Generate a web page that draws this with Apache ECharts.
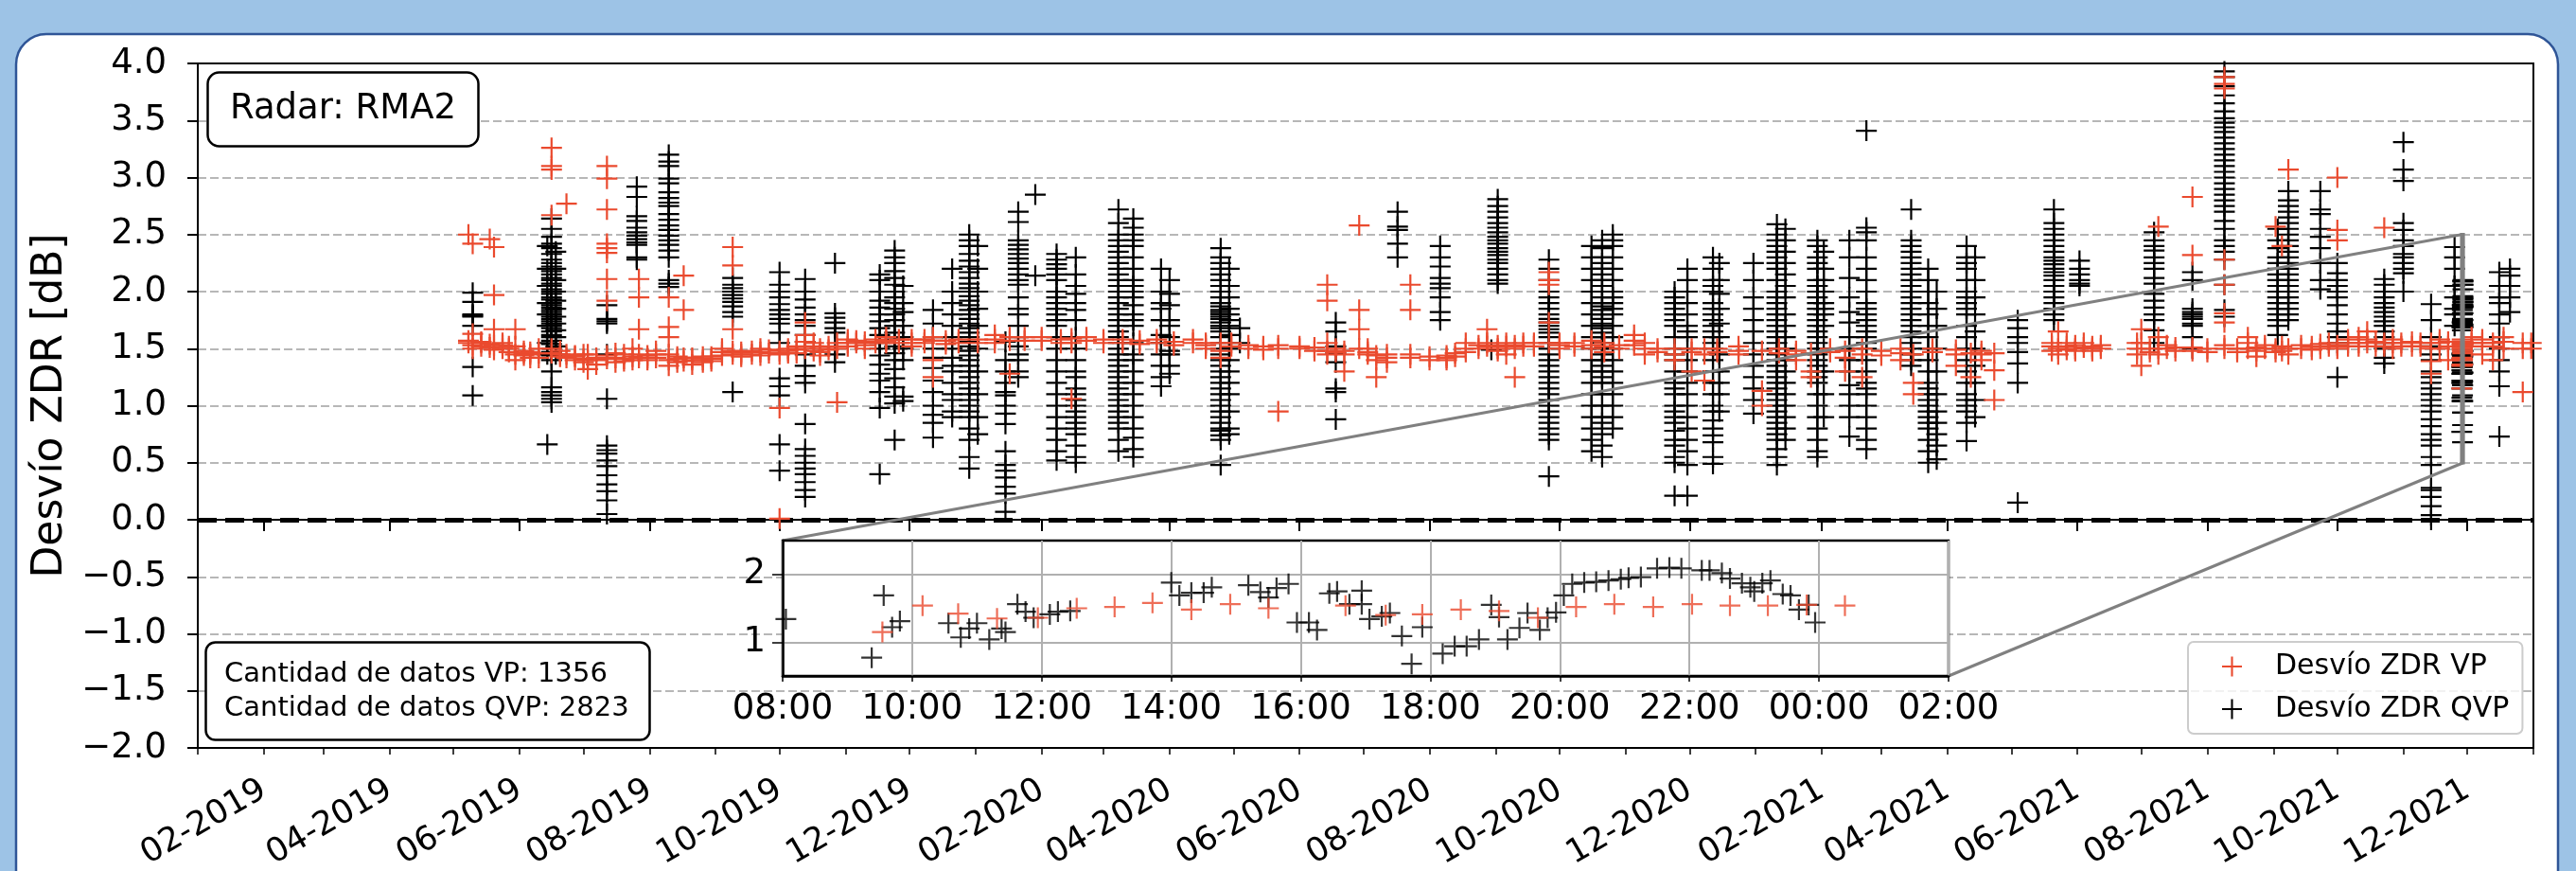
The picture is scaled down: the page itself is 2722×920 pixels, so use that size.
<!DOCTYPE html>
<html><head><meta charset="utf-8">
<script src="https://cdn.jsdelivr.net/npm/echarts@6/dist/echarts.min.js"></script>
<style>html,body{margin:0;padding:0;background:#9DC3E6;}#c{width:2722px;height:920px;}</style>
</head><body><div id="c"></div>
<script>
// ---------------- DATA ----------------
const xTickLabels = ['02-2019','04-2019','06-2019','08-2019','10-2019','12-2019','02-2020','04-2020','06-2020','08-2020','10-2020','12-2020','02-2021','04-2021','06-2021','08-2021','10-2021','12-2021'];
const xStart = '2019-01-01';
const xEnd = '2022-01-01';
const insetTickLabels = ['08:00','10:00','12:00','14:00','16:00','18:00','20:00','22:00','00:00','02:00'];
const insetDate = '2021-11-28';

const qvpDates = ['2019-05-10','2019-06-14','2019-06-16','2019-06-18','2019-07-12','2019-07-26','2019-08-10','2019-09-09','2019-10-01','2019-10-13','2019-10-27','2019-11-17','2019-11-24','2019-11-28','2019-12-12','2019-12-21','2019-12-29','2020-01-02','2020-01-15','2020-01-21','2020-01-29','2020-02-08','2020-02-17','2020-03-08','2020-03-15','2020-03-28','2020-04-01','2020-04-25','2020-04-29','2020-05-04','2020-06-18','2020-07-17','2020-08-06','2020-08-30','2020-09-02','2020-09-26','2020-10-16','2020-10-21','2020-10-26','2020-11-24','2020-11-30','2020-12-12','2020-12-15','2020-12-31','2021-01-11','2021-01-15','2021-01-30','2021-02-02','2021-02-14','2021-02-22','2021-03-15','2021-03-23','2021-03-27','2021-04-10','2021-04-14','2021-05-04','2021-05-21','2021-06-02','2021-07-07','2021-07-25','2021-08-09','2021-09-03','2021-09-08','2021-09-23','2021-10-01','2021-10-23','2021-11-01','2021-11-14','2021-11-25','2021-12-16','2021-12-21'];
const qvpValues = [
 [1.99,1.91,1.80,1.79,1.78,1.70,1.34,1.09],
 [0.66,2.40,2.20,2.05,1.90,1.80,1.70,1.55,1.45],
 [2.64,2.55,2.48,2.42,2.38,2.33,2.28,2.25,2.22,2.18,2.15,2.12,2.10,2.07,2.05,2.02,2.00,1.98,1.95,1.93,1.90,1.88,1.86,1.84,1.82,1.80,1.78,1.76,1.74,1.72,1.70,1.68,1.65,1.62,1.60,1.57,1.54,1.50,1.47,1.44,1.40,1.30,1.16,1.12,1.09,1.06,1.03],
 [2.35,2.20,2.10,2.00,1.92,1.85,1.78,1.72,1.66,1.60,1.52,1.45],
 [1.88,1.76,1.74,1.72,1.45,1.06,0.65,0.61,0.58,0.52,0.47,0.39,0.31,0.25,0.17,0.05],
 [2.92,2.83,2.66,2.62,2.56,2.52,2.49,2.46,2.43,2.41,2.30,2.28],
 [3.20,3.14,3.10,2.99,2.95,2.87,2.82,2.78,2.75,2.68,2.63,2.58,2.54,2.49,2.45,2.41,2.36,2.30,2.10,2.07,2.04],
 [2.12,2.06,2.03,2.00,1.97,1.94,1.91,1.87,1.82,1.78,1.12],
 [2.17,2.06,2.00,1.95,1.89,1.84,1.80,1.76,1.72,1.64,1.55,1.24,1.17,1.09,0.66,0.43],
 [2.11,2.00,1.93,1.86,1.80,1.75,1.70,1.62,1.56,1.45,1.35,1.26,1.20,0.84,0.62,0.56,0.50,0.45,0.40,0.33,0.26,0.20],
 [2.25,1.81,1.77,1.73,1.68,1.64,1.45,1.38],
 [2.15,2.10,2.00,1.92,1.86,1.80,1.74,1.68,1.62,1.55,1.50,1.44,1.36,1.28,1.22,1.12,0.98,0.40],
 [2.36,2.30,2.25,2.18,2.12,2.06,2.00,1.95,1.90,1.85,1.80,1.75,1.70,1.64,1.58,1.52,1.46,1.40,1.32,1.24,1.16,1.08,1.02,0.70],
 [2.05,1.90,1.82,1.70,1.60,1.50,1.40,1.08,1.04],
 [1.84,1.72,1.60,1.50,1.42,1.33,1.22,1.12,1.00,0.92,0.85,0.72],
 [2.20,2.00,1.90,1.80,1.70,1.60,1.50,1.42,1.35,1.30,1.20,1.10,1.05,0.95,0.90],
 [2.50,2.45,2.40,2.33,2.27,2.22,2.17,2.12,2.07,2.03,2.00,1.96,1.92,1.88,1.84,1.80,1.76,1.72,1.68,1.64,1.60,1.56,1.52,1.48,1.44,1.40,1.35,1.30,1.25,1.20,1.15,1.10,1.05,1.00,0.95,0.90,0.80,0.70,0.55,0.45],
 [2.40,2.20,2.00,1.85,1.70,1.50,1.30,1.10,0.90,0.75],
 [1.56,1.40,1.30,1.20,1.12,1.09,1.00,0.93,0.84,0.60,0.48,0.43,0.37,0.29,0.23,0.07],
 [2.70,2.61,2.45,2.41,2.37,2.33,2.29,2.25,2.20,2.15,2.10,2.06,1.95,1.85,1.80,1.70,1.60,1.52,1.45,1.40,1.30,1.25],
 [2.85,2.14],
 [2.33,2.28,2.24,2.20,2.15,2.10,2.00,1.95,1.90,1.85,1.80,1.75,1.70,1.60,1.50,1.40,1.30,1.20,1.10,1.00,0.90,0.80,0.70,0.60,0.52],
 [2.30,2.15,2.05,1.98,1.90,1.84,1.75,1.60,1.50,1.40,1.30,1.25,1.15,1.10,1.05,1.00,0.95,0.90,0.85,0.80,0.75,0.65,0.55,0.50],
 [2.72,2.60,2.50,2.45,2.40,2.35,2.30,2.25,2.20,2.15,2.10,2.05,2.00,1.95,1.90,1.85,1.80,1.75,1.70,1.65,1.60,1.55,1.50,1.45,1.40,1.35,1.30,1.25,1.20,1.15,1.10,1.05,1.00,0.95,0.90,0.85,0.80,0.70,0.60],
 [2.64,2.56,2.50,2.45,2.40,2.30,2.20,2.10,2.05,2.00,1.95,1.88,1.80,1.75,1.70,1.55,1.45,1.40,1.30,1.20,1.10,1.00,0.90,0.80,0.72,0.62,0.55],
 [2.20,2.00,1.90,1.85,1.75,1.62,1.55,1.45,1.35,1.25,1.17],
 [2.10,1.98,1.88,1.75,1.70,1.60,1.48,1.45,1.35,1.28],
 [2.38,2.30,2.25,2.20,2.15,2.10,2.05,2.00,1.95,1.90,1.87,1.84,1.82,1.80,1.78,1.76,1.73,1.70,1.68,1.65,1.60,1.55,1.50,1.45,1.40,1.35,1.30,1.25,1.20,1.15,1.10,1.05,1.00,0.95,0.90,0.85,0.80,0.78,0.74,0.70,0.48],
 [2.20,2.05,1.95,1.85,1.80,1.75,1.70,1.62,1.50,1.40,1.30,1.20,1.10,0.95,0.80,0.75],
 [1.68,1.55],
 [1.73,1.65,1.52,1.46,1.38,1.15,1.12,0.88],
 [2.70,2.57,2.54,2.42,2.30],
 [2.40,2.30,2.22,2.12,2.07,2.03,1.95,1.82,1.75],
 [1.49],
 [2.81,2.75,2.70,2.65,2.60,2.56,2.52,2.48,2.45,2.42,2.38,2.35,2.32,2.28,2.25,2.20,2.15,2.10,2.07],
 [2.28,2.20,2.10,2.00,1.95,1.90,1.85,1.80,1.76,1.73,1.70,1.67,1.64,1.60,1.55,1.50,1.45,1.40,1.35,1.30,1.25,1.20,1.15,1.10,1.05,1.00,0.95,0.90,0.85,0.80,0.75,0.70,0.38],
 [2.40,2.30,2.20,2.10,2.00,1.90,1.80,1.70,1.60,1.50,1.40,1.30,1.20,1.10,1.00,0.90,0.80,0.70,0.60],
 [2.45,2.38,2.30,2.25,2.20,2.15,2.10,2.05,2.00,1.95,1.90,1.87,1.84,1.80,1.76,1.72,1.68,1.64,1.60,1.55,1.50,1.45,1.40,1.35,1.30,1.25,1.20,1.10,1.00,0.90,0.85,0.75,0.65,0.55],
 [2.50,2.45,2.40,2.30,2.20,2.10,2.00,1.95,1.90,1.85,1.80,1.70,1.60,1.50,1.40,1.30,1.20,1.10,1.00,0.90,0.80],
 [2.00,1.95,1.90,1.85,1.80,1.75,1.70,1.60,1.50,1.45,1.40,1.30,1.20,1.15,1.10,1.00,0.95,0.90,0.85,0.78,0.70,0.65,0.55,0.50,0.21],
 [2.20,2.10,2.00,1.90,1.80,1.70,1.65,1.60,1.50,1.40,1.30,1.20,1.10,1.00,0.90,0.80,0.70,0.60,0.48,0.21],
 [2.30,2.20,2.10,2.05,2.00,1.90,1.85,1.80,1.75,1.70,1.65,1.60,1.55,1.50,1.40,1.30,1.20,1.10,1.00,0.95,0.87,0.80,0.74,0.68,0.55,0.49],
 [2.25,2.10,1.98,1.85,1.72,1.60,1.45,1.30,1.20,1.10,0.95],
 [2.25,2.10,1.95,1.85,1.75,1.65,1.55,1.45,1.35,1.25,1.15,1.05,0.93],
 [2.59,2.50,2.45,2.40,2.35,2.30,2.25,2.20,2.10,2.00,1.95,1.90,1.85,1.80,1.75,1.70,1.65,1.60,1.55,1.50,1.45,1.40,1.35,1.30,1.25,1.20,1.15,1.10,1.05,1.00,0.95,0.90,0.85,0.80,0.75,0.70,0.62,0.55,0.48],
 [2.55,2.45,2.35,2.25,2.15,2.05,1.95,1.80,1.70,1.60,1.50,1.40,1.30,1.20,1.10,1.00,0.90,0.80,0.70],
 [2.45,2.40,2.30,2.25,2.20,2.10,2.05,2.00,1.95,1.90,1.85,1.80,1.75,1.70,1.65,1.60,1.55,1.50,1.45,1.40,1.35,1.30,1.25,1.20,1.10,1.00,0.90,0.80,0.70,0.60,0.55],
 [2.35,2.20,2.10,2.00,1.90,1.85,1.80,1.70,1.50,1.30,1.10,0.90],
 [2.45,2.30,2.12,1.95,1.82,1.73,1.60,1.50,1.40,1.30,1.18,1.10,1.00,0.90,0.73],
 [3.41,2.56,2.52,2.45,2.30,2.20,2.10,2.00,1.90,1.85,1.80,1.75,1.70,1.65,1.60,1.55,1.50,1.40,1.30,1.20,1.15,1.10,1.00,0.90,0.80,0.70,0.62],
 [2.72,2.45,2.40,2.35,2.30,2.25,2.20,2.15,2.10,2.05,2.00,1.95,1.90,1.85,1.80,1.75,1.70,1.65,1.60,1.55,1.50,1.45,1.40,1.35],
 [2.20,2.10,2.00,1.90,1.80,1.70,1.60,1.50,1.40,1.30,1.20,1.15,1.10,1.05,1.00,0.95,0.90,0.85,0.80,0.70,0.60,0.50],
 [2.00,1.85,1.70,1.50,1.30,1.10,0.95,0.85,0.75,0.65,0.53],
 [2.40,2.30,2.25,2.20,2.10,2.00,1.95,1.90,1.85,1.80,1.70,1.60,1.50,1.40,1.30,1.20,1.10,1.05,1.00,0.95,0.85,0.69],
 [2.30,2.10,1.95,1.80,1.65,1.50,1.35,1.20,1.05,0.90],
 [1.75,1.68,1.60,1.55,1.47,1.37,1.20,0.15],
 [2.72,2.60,2.55,2.50,2.45,2.40,2.35,2.30,2.27,2.24,2.20,2.17,2.14,2.10,2.05,2.00,1.95,1.90,1.85,1.80,1.75],
 [2.27,2.20,2.15,2.10,2.07,2.05],
 [2.52,2.45,2.40,2.36,2.30,2.25,2.20,2.12,2.07,1.98,1.92,1.86,1.80,1.75,1.66,1.55],
 [2.17,2.10,1.85,1.82,1.80,1.78,1.76,1.72,1.70,1.60,1.50],
 [3.93,3.88,3.80,3.72,3.65,3.58,3.52,3.48,3.44,3.40,3.35,3.30,3.25,3.20,3.15,3.10,3.05,3.00,2.95,2.90,2.85,2.80,2.75,2.70,2.62,2.55,2.45,2.40,2.35,2.28,2.06,1.84,1.78],
 [2.55,2.45,2.38,2.30,2.25,2.20,2.15,2.10,2.05,2.00,1.95,1.90,1.85,1.80,1.75,1.70,1.62],
 [2.88,2.80,2.75,2.70,2.65,2.60,2.55,2.50,2.45,2.40,2.35,2.30,2.25,2.20,2.15,2.10,2.05,2.00,1.95,1.90,1.85,1.80,1.75],
 [2.88,2.72,2.68,2.55,2.48,2.38,2.25,2.10,2.02],
 [2.25,2.16,2.10,2.05,2.00,1.95,1.88,1.80,1.72,1.65,1.60,1.55,1.25],
 [2.11,2.06,2.00,1.95,1.90,1.86,1.82,1.78,1.74,1.70,1.65,1.60,1.55,1.50,1.42,1.37],
 [3.31,3.07,2.97,2.60,2.54,2.45,2.40,2.33,2.30,2.25,2.20,2.16,2.00],
 [1.89,1.75,1.60,1.52,1.45,1.40,1.30,1.25,1.20,1.15,1.10,1.05,1.00,0.95,0.88,0.82,0.75,0.70,0.65,0.55,0.48,0.28,0.26,0.20,0.12,0.04,0.00],
 [2.39,2.30,2.20,2.05,1.95,1.85,1.80,1.70],
 [2.17,2.05,1.95,1.90,1.80,1.72,1.60,1.50,1.40,1.30,1.17,0.73],
 [2.20,2.14,2.05,1.95,1.82]
];

const vpDates = ['2019-05-08','2019-05-10','2019-05-14','2019-05-18','2019-05-20','2019-05-24','2019-05-27','2019-05-30','2019-06-03','2019-06-06','2019-06-10','2019-06-16','2019-06-20','2019-06-23','2019-06-27','2019-07-01','2019-07-03','2019-07-07','2019-07-12','2019-07-16','2019-07-20','2019-07-24','2019-07-27','2019-07-31','2019-08-04','2019-08-10','2019-08-14','2019-08-17','2019-08-21','2019-08-26','2019-08-30','2019-09-04','2019-09-09','2019-09-13','2019-09-18','2019-09-22','2019-09-26','2019-10-01','2019-10-05','2019-10-09','2019-10-13','2019-10-17','2019-10-20','2019-10-24','2019-10-28','2019-11-02','2019-11-06','2019-11-10','2019-11-15','2019-11-20','2019-11-26','2019-12-02','2019-12-08','2019-12-12','2019-12-18','2019-12-24','2020-01-02','2020-01-10','2020-01-17','2020-01-24','2020-02-01','2020-02-10','2020-02-15','2020-02-22','2020-03-01','2020-03-10','2020-03-18','2020-03-26','2020-04-03','2020-04-12','2020-04-18','2020-04-25','2020-04-30','2020-05-08','2020-05-15','2020-05-22','2020-06-01','2020-06-08','2020-06-14','2020-06-18','2020-06-22','2020-06-29','2020-07-03','2020-07-07','2020-07-12','2020-07-23','2020-08-01','2020-08-09','2020-08-13','2020-08-18','2020-08-24','2020-08-28','2020-09-02','2020-09-06','2020-09-10','2020-09-14','2020-09-19','2020-09-26','2020-10-01','2020-10-08','2020-10-16','2020-10-22','2020-10-29','2020-11-05','2020-11-10','2020-11-16','2020-11-24','2020-12-02','2020-12-08','2020-12-14','2020-12-24','2021-01-04','2021-01-12','2021-01-20','2021-01-27','2021-02-05','2021-02-12','2021-02-20','2021-03-01','2021-03-10','2021-03-16','2021-03-25','2021-04-05','2021-04-12','2021-04-17','2021-04-23','2021-05-20','2021-05-23','2021-05-27','2021-05-31','2021-06-04','2021-06-08','2021-06-12','2021-06-29','2021-07-01','2021-07-05','2021-07-09','2021-07-13','2021-07-17','2021-07-25','2021-08-01','2021-08-09','2021-08-15','2021-08-20','2021-08-24','2021-08-28','2021-09-02','2021-09-05','2021-09-08','2021-09-14','2021-09-19','2021-09-23','2021-09-27','2021-10-01','2021-10-06','2021-10-11','2021-10-15','2021-10-19','2021-10-23','2021-10-27','2021-10-31','2021-11-05','2021-11-09','2021-11-14','2021-11-18','2021-11-22','2021-12-03','2021-12-08','2021-12-13','2021-12-18','2021-12-27','2021-12-31'];
const vpValues = [
 [2.50,1.55,1.57],[2.42,1.63,1.53,1.50],[1.55,1.52,1.56],[2.46,1.54,1.51],[2.39,1.97,1.67,1.53,1.49],[1.55,1.50,1.53],[1.52,1.47,1.50],[1.67,1.52,1.45,1.40],[1.48,1.44,1.46],[1.45,1.42,1.47],[1.46,1.42,1.50],
 [3.26,3.10,3.07,2.67,1.50,1.46],[1.48,1.43,1.45],[2.77,1.45,1.42],[1.44,1.40,1.43],[1.45,1.38,1.41],[1.45,1.40,1.32],[1.42,1.36,1.40],[3.10,2.99,2.72,2.42,2.38,2.34,2.11,1.92,1.44,1.41],[1.46,1.42,1.38],[1.45,1.41,1.39],[1.50,1.43,1.40],
 [2.11,1.95,1.67,1.45,1.42],[1.44,1.40,1.42],[1.48,1.42,1.45],[1.95,1.69,1.60,1.45,1.40,1.35],[1.43,1.38,1.41],[2.14,1.84,1.42,1.39],[1.42,1.36,1.40],[1.40,1.38,1.43],[1.43,1.39,1.41],[1.50,1.44,1.47],[2.39,2.23,1.67,1.48,1.45],[1.47,1.43,1.45],[1.48,1.45],[1.50,1.44,1.47],[1.46,1.49],
 [0.98,0.01,1.45,1.48],[1.48,1.50,1.46],[1.52,1.46,1.49],[1.73,1.62,1.56,1.50],[1.55,1.48,1.52],[1.50,1.44,1.47],[1.52,1.49],[1.03,1.55,1.50],[1.58,1.52,1.55],[1.55,1.57],[1.56,1.50,1.53],[1.58,1.55],[1.55,1.60,1.57],[1.58,1.55],[1.55,1.52,1.58],[1.58,1.55],[1.25,1.40,1.60,1.57],[1.57,1.54],[1.55,1.58],
 [1.58,1.55],[1.62,1.55,1.58],[1.28,1.60,1.57],[1.57,1.60],[1.60,1.57],[1.58,1.55],[1.06,1.55,1.59],[1.60,1.57],[1.58,1.55],[1.55,1.58],[1.57,1.54],[1.55,1.58],[1.56,1.53],[1.58,1.55],[1.55,1.50,1.53],[1.55,1.48,1.42],[1.52,1.55],[1.50,1.53],[1.52,1.49],[1.53,0.95,1.50],[1.50,1.52],[1.48,1.51],
 [2.06,1.92,1.55,1.48,1.45],[1.50,1.47],[1.30,1.45,1.48],[2.58,1.84,1.67,1.50],[1.50,1.45,1.47],[1.40,1.25,1.44],[1.38,1.45,1.42],[2.06,1.84,1.45,1.42],[1.43,1.40],[1.42,1.40,1.44],[1.43,1.46],[1.55,1.50,1.47],[1.50,1.53],[1.67,1.55,1.52],[1.50,1.48,1.53],[1.45,1.55,1.52],[1.25,1.50,1.53],[1.52,1.55],[1.55,1.52],
 [2.17,2.10,2.06,1.73,1.55],[1.55,1.53,1.50],[1.52,1.55],[1.57,1.50,1.53],[1.47,1.52,1.55],[1.50,1.53],[1.62,1.57,1.53],[1.45,1.55,1.50],[1.50,1.47],[1.45,1.40,1.50],[1.30,1.50,1.47],[1.22,1.45,1.50],[1.50,1.47],[1.52,1.48,1.45],
 [1.13,1.00,1.48],[1.50,1.46],[1.48,1.40,1.45],[1.30,1.25,1.46],[1.50,1.47],[1.42,1.30,1.48],[1.25,1.50,1.45],[1.48,1.44],[1.50,1.40,1.46],[1.20,1.10,1.45],[1.50,1.47],[1.45,1.35,1.49],[1.25,1.46],[1.45,1.40,1.48],[1.31,1.05,1.46],
 [1.55,1.48,1.52],[1.65,1.50,1.45],[1.55,1.52,1.49],[1.50,1.48,1.53],[1.55,1.51],[1.52,1.50,1.48],[1.50,1.53],[1.55,1.45,1.50],[1.67,1.55,1.35],[1.50,1.47],[2.57,1.60,1.45,1.50],[1.50,1.53],[1.48,1.51],[2.83,2.32,1.48,1.51],[1.50,1.47],
 [3.88,3.82,3.78,2.28,2.06,1.81,1.73,1.53,1.50],[1.50,1.47],[1.60,1.55,1.50],[1.48,1.43,1.51],[1.50,1.53],[2.57,1.50,1.47],[2.40,1.48,1.52],[3.07,1.45,1.50],[1.50,1.53],[1.52,1.49],[1.50,1.54],[1.52,1.55],[3.00,2.54,2.45,1.50,1.53],[1.55,1.58,1.52],[1.60,1.55,1.52],[1.65,1.55,1.58],[1.52,1.56],[2.56,1.52,1.55],[1.50,1.55,1.58],[1.55,1.52],[1.52,1.56],[1.55,1.52],[1.39,1.28,1.50,1.55],[1.55,1.50,1.58],[1.40,1.52,1.56],[1.60,1.55,1.52],[1.55,1.45,1.58],[1.40,1.55,1.52],[1.50,1.60,1.56],[1.12,1.50,1.55],[1.50,1.55]
];

// inset (one day, hours after 00:00 of insetDate)
const insetQvpHours = [8.05,9.375,9.56,9.69,9.81,10.56,10.75,10.88,11.0,11.19,11.38,11.44,11.625,11.75,11.875,12.125,12.25,12.44,14.0,14.125,14.31,14.5,14.625,15.19,15.375,15.5,15.625,15.81,15.94,16.125,16.25,16.44,16.56,16.75,16.94,16.94,17.06,17.25,17.375,17.56,17.71,17.875,18.19,18.375,18.56,18.75,18.94,19.06,19.19,19.375,19.5,19.69,19.81,19.94,20.06,20.19,20.375,20.56,20.75,20.94,21.06,21.25,21.5,21.69,21.875,22.19,22.31,22.5,22.625,22.81,22.94,23.0,23.125,23.25,23.44,23.56,23.69,23.84,23.94];
const insetQvpValues = [1.34,0.77,1.69,1.22,1.31,1.28,1.07,1.20,1.28,1.04,1.20,1.15,1.56,1.45,1.36,1.41,1.45,1.46,1.88,1.69,1.73,1.73,1.81,1.84,1.74,1.66,1.80,1.86,1.29,1.29,1.18,1.72,1.75,1.56,1.56,1.76,1.34,1.38,1.43,1.09,0.68,1.22,0.83,0.94,0.94,1.04,1.55,1.37,1.04,1.21,1.43,1.18,1.36,1.44,1.69,1.86,1.88,1.89,1.91,1.93,1.95,1.96,2.09,2.10,2.09,2.06,2.06,2.02,1.94,1.87,1.81,1.75,1.87,1.91,1.71,1.69,1.48,1.55,1.29];
const insetVpHours = [9.54,10.16,10.71,11.31,11.94,12.54,13.125,13.71,14.31,14.91,15.5,16.69,17.31,17.875,18.47,19.06,19.66,20.25,20.84,21.44,22.04,22.625,23.21,23.81,24.4];
const insetVpValues = [1.15,1.54,1.42,1.35,1.36,1.50,1.52,1.58,1.48,1.56,1.50,1.54,1.40,1.41,1.48,1.46,1.36,1.52,1.56,1.52,1.56,1.54,1.54,1.55,1.54];

// ---------------- BUILD ----------------
const FONT = 'DejaVu Sans';
const RED = '#ea4a2e';
const PLUS = 'path://M-10,-1L10,-1L10,1L-10,1Z M-1,-10L1,-10L1,10L-1,10Z';
function ts(s){const p=s.split('-').map(Number);return new Date(p[0],p[1]-1,p[2]).getTime();}
function tickTs(lbl){const m=+lbl.slice(0,2),y=+lbl.slice(3);return new Date(y,m-1,1).getTime();}
const xMin = ts(xStart), xMax = ts(xEnd);
const majorTicks = xTickLabels.map(tickTs);
const labelMap = {}; xTickLabels.forEach((l,i)=>labelMap[majorTicks[i]]=l);
const minorTicks = [];
for(let d=new Date(xMin); d.getTime()<=xMax; d=new Date(d.getFullYear(), d.getMonth()+1, 1)) minorTicks.push(d.getTime());

const insetBase = ts(insetDate);
const qvpData = [];
qvpDates.forEach((d,i)=>qvpValues[i].forEach(v=>qvpData.push([ts(d),v])));
insetQvpHours.forEach((h,i)=>qvpData.push([insetBase+h*3600e3, insetQvpValues[i]]));
const vpData = [];
vpDates.forEach((d,i)=>vpValues[i].forEach(v=>vpData.push([ts(d),v])));
insetVpHours.forEach((h,i)=>vpData.push([insetBase+h*3600e3, insetVpValues[i]]));
const insetQvp = insetQvpHours.map((h,i)=>[h, insetQvpValues[i]]);
const insetVp = insetVpHours.map((h,i)=>[h, insetVpValues[i]]);

const chart = echarts.init(document.getElementById('c'), null, {renderer:'canvas'});
const txt = {fontFamily: FONT, color:'#000'};
const option = {
  animation:false,
  backgroundColor:'#9DC3E6',
  graphic:{elements:[{id:'panel',type:'rect',z:-10,shape:{x:17,y:36,width:2686,height:1000,r:32},style:{fill:'#fff',stroke:'#2F5597',lineWidth:2.5}}]},
  title:[
    {text:'Radar: RMA2', left:219, top:76, padding:[21,24], borderWidth:2.5, borderColor:'#000', borderRadius:12, backgroundColor:'#fff',
     textStyle:Object.assign({fontSize:37,fontWeight:'normal'},txt), z:20},
    {text:'Cantidad de datos VP: 1356\nCantidad de datos QVP: 2823', left:217, top:678, padding:[16,22,16,20], borderWidth:2.5, borderColor:'#000', borderRadius:10, backgroundColor:'#fff',
     textStyle:Object.assign({fontSize:29,fontWeight:'normal',lineHeight:36},txt), z:20}
  ],
  legend:{
    orient:'vertical', left:2312, top:678, padding:[11,14,11,36], itemWidth:21, itemHeight:21, itemGap:15,
    backgroundColor:'rgba(255,255,255,0.8)', borderColor:'#cccccc', borderWidth:2, borderRadius:6, z:20,
    formatter:'{g|}{t|{name}}',
    textStyle:{fontSize:30, fontFamily:FONT, color:'#000', rich:{g:{width:30}, t:{fontSize:30,fontFamily:FONT,color:'#000'}}},
    data:['Desvío ZDR VP','Desvío ZDR QVP']
  },
  grid:[
    {left:209, top:67, width:2468, height:723, show:true, borderColor:'#000', borderWidth:2, backgroundColor:'transparent', outerBoundsMode:'none', z:1},
    {left:827, top:571, width:1232, height:143, show:true, borderColor:'#000', borderWidth:2.5, backgroundColor:'#fff', outerBoundsMode:'none', z:10}
  ],
  xAxis:[
    {type:'value', gridIndex:0, min:xMin, max:xMax,
     axisLine:{show:true, lineStyle:{color:'#000', width:2}},
     axisTick:{show:true, length:12, lineStyle:{color:'#000', width:2}, customValues:majorTicks},
     axisLabel:{show:true, rotate:30, margin:42, fontSize:35, fontFamily:FONT, color:'#000', customValues:majorTicks, formatter:v=>labelMap[v]||''},
     splitLine:{show:false}, minorTick:{show:false}},
    {type:'value', gridIndex:0, min:xMin, max:xMax, position:'bottom',
     axisLine:{show:false}, axisTick:{show:true, length:7, lineStyle:{color:'#000', width:1.5}, customValues:minorTicks},
     axisLabel:{show:false}, splitLine:{show:false}},
    {type:'value', gridIndex:1, min:8, max:26, interval:2, z:11,
     axisLine:{show:true, lineStyle:{color:'#000', width:2.5}},
     axisTick:{show:true, length:6, lineStyle:{color:'#000', width:1.5}},
     axisLabel:{show:true, margin:17, fontSize:37, fontFamily:FONT, color:'#000', formatter:v=>insetTickLabels[Math.round((v-8)/2)]},
     splitLine:{show:true, lineStyle:{color:'#b0b0b0', width:2, type:'solid'}}}
  ],
  yAxis:[
    {type:'value', gridIndex:0, min:-2, max:4, interval:0.5,
     name:'Desvío ZDR [dB]', nameLocation:'middle', nameGap:127, nameRotate:90,
     nameTextStyle:{fontSize:44, fontFamily:FONT, color:'#000'},
     axisLine:{show:true, lineStyle:{color:'#000', width:2}},
     axisTick:{show:true, length:11, lineStyle:{color:'#000', width:2}},
     axisLabel:{show:true, margin:33, fontSize:37, fontFamily:FONT, color:'#000', formatter:v=>(v<0?'\u2212':'')+Math.abs(v).toFixed(1)},
     splitLine:{show:true, lineStyle:{color:'#a0a0a0', width:1.5, type:[9,4]}}},
    {type:'value', gridIndex:1, min:0.5, max:2.5, z:11,
     axisLine:{show:true, lineStyle:{color:'#000', width:2.5}},
     axisTick:{show:true, length:11, lineStyle:{color:'#000', width:1.5}, customValues:[1,2]},
     axisLabel:{show:true, margin:18, fontSize:37, fontFamily:FONT, color:'#000', customValues:[1,2], formatter:v=>String(Math.round(v))},
     splitLine:{show:true, lineStyle:{color:'#b0b0b0', width:2, type:'solid'}}}
  ],
  series:[
    {name:'Desvío ZDR QVP', type:'scatter', xAxisIndex:0, yAxisIndex:0, symbol:PLUS, symbolSize:22, itemStyle:{color:'#000', opacity:1}, z:3, data:qvpData,
     markLine:{silent:true, symbol:'none', label:{show:false}, lineStyle:{color:'#000', width:5, type:[20,9]}, data:[{yAxis:0}], z:3}},
    {name:'Desvío ZDR VP', type:'scatter', xAxisIndex:0, yAxisIndex:0, symbol:PLUS, symbolSize:22, itemStyle:{color:RED, opacity:1}, z:4, data:vpData},
    {name:'insetQVP', type:'scatter', xAxisIndex:2, yAxisIndex:1, symbol:PLUS, symbolSize:22, itemStyle:{color:'#000'}, z:12, data:insetQvp},
    {name:'insetVP', type:'scatter', xAxisIndex:2, yAxisIndex:1, symbol:PLUS, symbolSize:22, itemStyle:{color:RED}, z:13, data:insetVp}
  ]
};
chart.setOption(option);

// zoom indicator and connectors computed from the axes
const f0 = {xAxisIndex:0, yAxisIndex:0}, f1 = {xAxisIndex:2, yAxisIndex:1};
const r0 = chart.convertToPixel(f0, [insetBase+8*3600e3, 2.5]);
const r1 = chart.convertToPixel(f0, [insetBase+26*3600e3, 0.5]);
const iTL = chart.convertToPixel(f1, [8, 2.5]);
const iBR = chart.convertToPixel(f1, [26, 0.5]);
chart.setOption({graphic:{elements:[
  {id:'zrect', type:'rect', z:8, shape:{x:r0[0], y:r0[1], width:r1[0]-r0[0], height:r1[1]-r0[1]}, style:{fill:'none', stroke:'#808080', lineWidth:3.5}},
  {id:'c1', type:'line', z:8, shape:{x1:r0[0], y1:r0[1], x2:iTL[0], y2:iTL[1]}, style:{stroke:'#808080', lineWidth:3}},
  {id:'c2', type:'line', z:8, shape:{x1:r1[0], y1:r1[1], x2:iBR[0], y2:iBR[1]}, style:{stroke:'#808080', lineWidth:3}}
]}});
</script></body></html>
